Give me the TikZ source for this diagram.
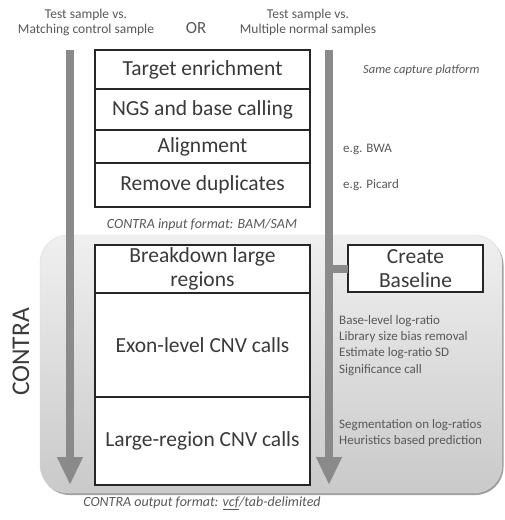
\documentclass[tikz,border=0pt]{standalone}
\usepackage{fontspec}
\setmainfont{Carlito}
\usetikzlibrary{
	positioning,
	arrows.meta
}
\definecolor{FlowGray}{RGB}{138,138,138}
\definecolor{BoxText}{RGB}{58,58,58}
\definecolor{NoteText}{RGB}{88,88,88}

\tikzset{
	stage/.style={
		draw=black!85,
		line width=1.3pt,
		fill=white,
		minimum width=215pt,
		outer sep=0pt,
		inner sep=0pt,
		align=center,
		text=BoxText,
		font=\fontsize{21.5}{24}\selectfont
	},
	note/.style={
		anchor=west,
		align=left,
		inner sep=0pt,
		text=NoteText,
		font=\fontsize{13}{16.3}\selectfont
	},
	flow/.style={
		FlowGray,
		line width=8pt,
		-{Triangle[width=24pt,length=28pt]}
	}
}

\begin{document}
\begin{tikzpicture}[x=1pt,y=-1pt]
				\useasboundingbox (0,0) rectangle (504,520);
				
				% CONTRA panel
				\fill[gray!75, rounded corners=28pt]
				(41.5,237) rectangle (503.5,495);
				\shade[
				top color=gray!12,
				bottom color=gray!42,
				draw=gray!30,
				rounded corners=28pt
				]
				(40,235) rectangle (502,493);
				
				\node[rotate=90, text=BoxText, font=\fontsize{25.5}{26}\selectfont]
				(contra) at (21,352) {CONTRA};
				
				% Sample labels
				\node[align=center, text=NoteText, font=\fontsize{13.5}{15}\selectfont]
				(matching) at (86,22) {Test sample vs.\\Matching control sample};
				
				\node[text=NoteText, font=\fontsize{17}{18}\selectfont]
				(or) at (196,28) {OR};
				
				\node[align=center, text=NoteText, font=\fontsize{13.5}{15}\selectfont]
				(multiple) at (308,22) {Test sample vs.\\Multiple normal samples};
				
				% Flow arrows
				\coordinate (ltop) at (70,50);
				\coordinate (lend) at (70,485);
				\coordinate (rtop) at (329,50);
				\coordinate (rend) at (329,485);
				
				\draw[flow] (ltop) -- (lend);
				\draw[flow] (rtop) -- (rend);
				
				% Pre-processing stages
				\node[stage, anchor=north, minimum height=39pt]
				(target) at (202.5,50) {Target enrichment};
				\node[stage, below=0pt of target, minimum height=41pt]
				(ngs) {NGS and base calling};
				\node[stage, below=0pt of ngs, minimum height=33pt]
				(align) {Alignment};
				\node[stage, below=0pt of align, minimum height=44pt]
				(dedup) {Remove duplicates};
				
				\node[text=NoteText, font=\itshape\fontsize{14}{16}\selectfont]
				(input) at (202,225) {CONTRA input format: BAM/SAM};
				
				% CONTRA stages
				\node[stage, anchor=north, minimum height=48pt]
				(breakdown) at (202.5,245) {Breakdown large\\regions};
				\node[stage, below=0pt of breakdown, minimum height=104pt]
				(exon) {Exon-level CNV calls};
				\node[stage, below=0pt of exon, minimum height=88pt]
				(large) {Large-region CNV calls};
				
				\node[stage, anchor=north west, minimum width=135pt, minimum height=47pt]
				(baseline) at (348,245) {Create\\Baseline};
				
				\draw[FlowGray, line width=8pt]
				(rtop |- baseline.west) -- (baseline.west);
				
				% Notes
				\node[note, font=\itshape\fontsize{12.5}{14}\selectfont]
				(platform) at (363,70) {Same capture platform};
				\node[note] (bwa) at (343,149) {e.g. BWA};
				\node[note] (picard) at (343,185) {e.g. Picard};
				\node[note, anchor=north west]
				(exonnote) at (339,315) {Base-level log-ratio\\Library size bias removal\\Estimate log-ratio SD\\Significance call};
				\node[note, anchor=north west]
				(largenote) at (339,419) {Segmentation on log-ratios\\Heuristics based prediction};
				
				\node[text=NoteText, font=\itshape\fontsize{14}{16}\selectfont]
				(output) at (202,503) {CONTRA output format: \underline{vcf}/tab-delimited};
				
			\end{tikzpicture}
\end{document}
